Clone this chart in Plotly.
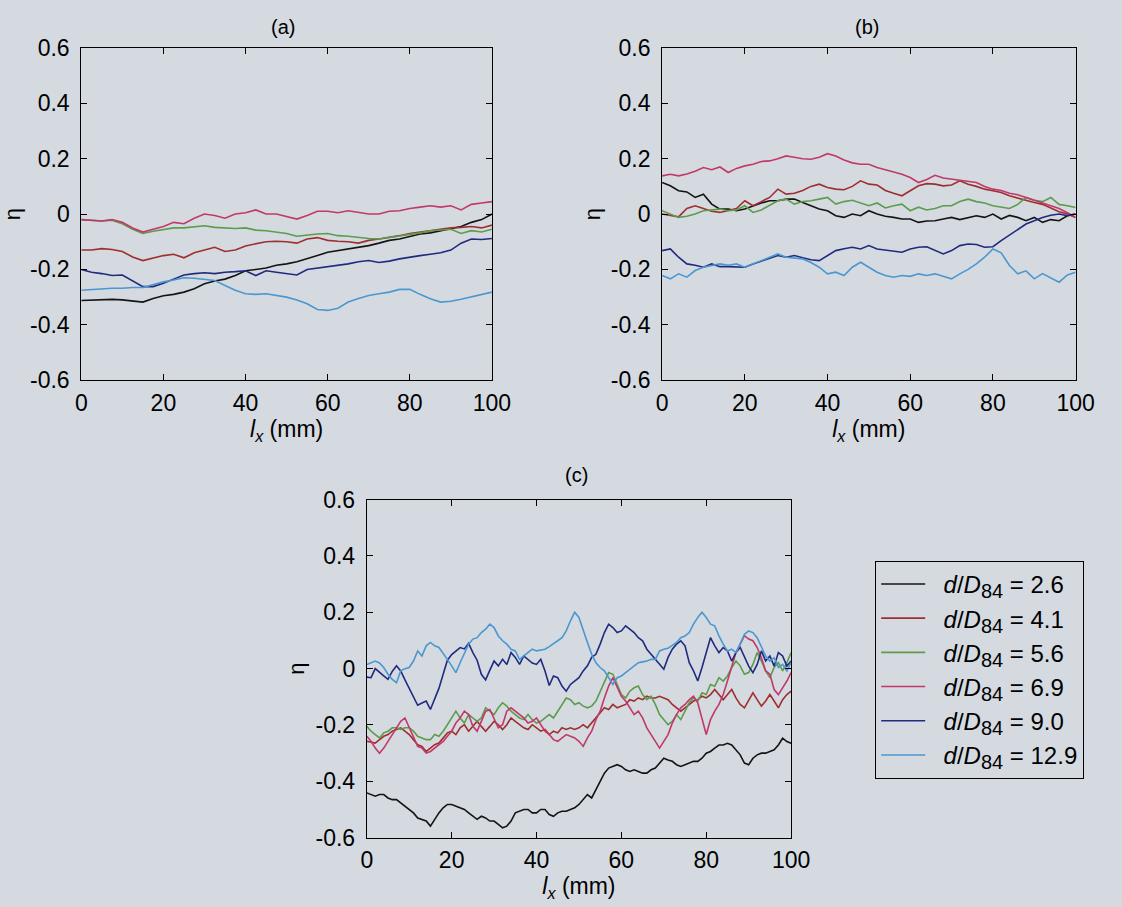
import plotly.graph_objects as go

# ---------------------------------------------------------------
# Sampling positions along the bed (mm)
# ---------------------------------------------------------------
lx_a = [k * 2.5 for k in range(41)]
lx_b = [k * 2 for k in range(51)]
lx_c = list(range(101))

ratios = ["2.6", "4.1", "5.6", "6.9", "9.0", "12.9"]
colors = ["#141414", "#9e2f2f", "#5c9c4c", "#c2386a", "#202a7e", "#4b97d0"]

# ---------------------------------------------------------------
# Panel (a)
# ---------------------------------------------------------------
a_26 = [-0.312, -0.31, -0.31, -0.308, -0.31, -0.315, -0.318, -0.305, -0.295, -0.29,
        -0.282, -0.27, -0.252, -0.242, -0.235, -0.222, -0.205, -0.2, -0.195, -0.185,
        -0.18, -0.172, -0.162, -0.15, -0.138, -0.132, -0.128, -0.12, -0.114, -0.105,
        -0.095, -0.09, -0.08, -0.072, -0.068, -0.06, -0.054, -0.045, -0.03, -0.02, 0.0]
a_41 = [-0.13, -0.13, -0.125, -0.128, -0.135, -0.155, -0.168, -0.16, -0.15, -0.145,
        -0.158, -0.14, -0.13, -0.12, -0.135, -0.13, -0.115, -0.108, -0.1, -0.098,
        -0.1, -0.105, -0.09, -0.085, -0.095, -0.098, -0.1, -0.105, -0.095, -0.09,
        -0.085, -0.078, -0.07, -0.065, -0.06, -0.055, -0.05, -0.048, -0.045, -0.05, -0.04]
a_56 = [-0.02, -0.022, -0.025, -0.022, -0.035, -0.055, -0.07, -0.062, -0.055, -0.05,
        -0.05, -0.045, -0.042, -0.048, -0.05, -0.052, -0.05, -0.058, -0.06, -0.065,
        -0.07, -0.08, -0.075, -0.072, -0.07, -0.078, -0.08, -0.085, -0.088, -0.09,
        -0.085, -0.08, -0.075, -0.068, -0.06, -0.058, -0.055, -0.07, -0.06, -0.065, -0.055]
a_69 = [-0.02, -0.022, -0.025, -0.02, -0.03, -0.05, -0.065, -0.055, -0.045, -0.03,
        -0.035, -0.015, 0.0, -0.005, -0.015, 0.0, 0.005, 0.015, 0.0, 0.0,
        -0.01, -0.018, -0.005, 0.01, 0.01, 0.005, 0.012, 0.005, 0.0, 0.0,
        0.01, 0.012, 0.02, 0.025, 0.03, 0.025, 0.03, 0.015, 0.035, 0.04, 0.045]
a_90 = [-0.2, -0.21, -0.215, -0.222, -0.22, -0.24, -0.262, -0.262, -0.25, -0.235,
        -0.22, -0.215, -0.212, -0.215, -0.21, -0.208, -0.205, -0.222, -0.205, -0.21,
        -0.215, -0.22, -0.2, -0.195, -0.19, -0.185, -0.18, -0.172, -0.168, -0.175,
        -0.17, -0.162, -0.155, -0.15, -0.145, -0.14, -0.13, -0.105, -0.09, -0.092, -0.088]
a_129 = [-0.275, -0.272, -0.27, -0.268, -0.268, -0.265, -0.265, -0.255, -0.245, -0.238,
         -0.23, -0.232, -0.235, -0.24, -0.258, -0.275, -0.288, -0.29, -0.288, -0.295,
         -0.3, -0.31, -0.324, -0.345, -0.348, -0.34, -0.318, -0.305, -0.294, -0.288,
         -0.282, -0.272, -0.272, -0.29, -0.306, -0.318, -0.315, -0.308, -0.3, -0.29, -0.282]

# ---------------------------------------------------------------
# Panel (b)
# ---------------------------------------------------------------
b_26 = [0.114, 0.102, 0.084, 0.08, 0.06, 0.072, 0.036, 0.018, 0.018, 0.012,
        0.018, 0.03, 0.04, 0.048, 0.048, 0.054, 0.054, 0.042, 0.03, 0.018,
        0.012, -0.006, -0.012, 0.0, -0.006, 0.012, 0.0, -0.008, -0.012, -0.018,
        -0.018, -0.03, -0.025, -0.024, -0.018, -0.012, -0.02, -0.012, -0.006, -0.012,
        0.0, -0.018, -0.005, -0.012, -0.024, -0.012, -0.03, -0.02, -0.024, -0.006, 0.0]
b_41 = [0.0, -0.005, -0.01, 0.02, 0.03, 0.02, 0.01, 0.006, 0.012, 0.02,
        0.048, 0.03, 0.045, 0.06, 0.09, 0.072, 0.075, 0.085, 0.1, 0.108,
        0.096, 0.09, 0.088, 0.1, 0.12, 0.108, 0.105, 0.085, 0.075, 0.066,
        0.084, 0.102, 0.11, 0.108, 0.102, 0.105, 0.12, 0.108, 0.1, 0.09,
        0.084, 0.078, 0.066, 0.058, 0.048, 0.042, 0.035, 0.02, 0.008, 0.0, -0.012]
b_56 = [0.012, 0.0, -0.012, -0.008, 0.0, 0.012, 0.015, 0.018, 0.012, 0.015,
        0.03, 0.006, 0.015, 0.03, 0.048, 0.054, 0.036, 0.045, 0.048, 0.054,
        0.06, 0.036, 0.045, 0.05, 0.04, 0.03, 0.04, 0.022, 0.03, 0.036,
        0.012, 0.025, 0.015, 0.02, 0.03, 0.03, 0.045, 0.054, 0.045, 0.04,
        0.03, 0.025, 0.02, 0.035, 0.06, 0.05, 0.045, 0.06, 0.035, 0.03, 0.024]
b_69 = [0.138, 0.144, 0.138, 0.145, 0.155, 0.168, 0.16, 0.17, 0.15, 0.165,
        0.174, 0.18, 0.19, 0.192, 0.2, 0.21, 0.205, 0.2, 0.198, 0.205,
        0.218, 0.21, 0.195, 0.185, 0.18, 0.18, 0.168, 0.16, 0.152, 0.144,
        0.132, 0.114, 0.125, 0.14, 0.13, 0.126, 0.122, 0.118, 0.114, 0.1,
        0.09, 0.085, 0.075, 0.07, 0.06, 0.048, 0.04, 0.03, 0.02, 0.005, -0.012]
b_90 = [-0.132, -0.126, -0.156, -0.18, -0.185, -0.192, -0.18, -0.19, -0.19, -0.192,
        -0.192, -0.18, -0.17, -0.16, -0.15, -0.156, -0.15, -0.158, -0.165, -0.168,
        -0.15, -0.132, -0.125, -0.12, -0.126, -0.114, -0.126, -0.13, -0.135, -0.138,
        -0.126, -0.12, -0.118, -0.13, -0.144, -0.132, -0.114, -0.108, -0.11, -0.12,
        -0.118, -0.096, -0.075, -0.055, -0.036, -0.024, -0.012, -0.004, 0.0, -0.006, 0.0]
b_129 = [-0.222, -0.234, -0.216, -0.228, -0.204, -0.192, -0.186, -0.18, -0.185, -0.18,
         -0.192, -0.18, -0.17, -0.158, -0.144, -0.156, -0.158, -0.162, -0.175, -0.192,
         -0.216, -0.21, -0.222, -0.192, -0.174, -0.192, -0.21, -0.222, -0.228, -0.222,
         -0.225, -0.216, -0.222, -0.216, -0.225, -0.234, -0.216, -0.2, -0.18, -0.156,
         -0.126, -0.14, -0.186, -0.216, -0.205, -0.234, -0.215, -0.232, -0.246, -0.22, -0.21]

# ---------------------------------------------------------------
# Panel (c)
# ---------------------------------------------------------------
c_26 = [-0.441, -0.447, -0.453, -0.447, -0.447, -0.459, -0.465, -0.465, -0.476, -0.488,
        -0.5, -0.512, -0.53, -0.535, -0.541, -0.559, -0.535, -0.512, -0.494, -0.482,
        -0.482, -0.488, -0.494, -0.5, -0.512, -0.524, -0.535, -0.524, -0.53, -0.541,
        -0.541, -0.553, -0.565, -0.559, -0.541, -0.512, -0.506, -0.5, -0.5, -0.512,
        -0.512, -0.5, -0.5, -0.518, -0.524, -0.512, -0.506, -0.506, -0.5, -0.494,
        -0.482, -0.465, -0.447, -0.459, -0.43, -0.4, -0.371, -0.353, -0.347, -0.341,
        -0.347, -0.359, -0.365, -0.359, -0.365, -0.371, -0.371, -0.359, -0.353, -0.335,
        -0.318, -0.324, -0.329, -0.341, -0.347, -0.341, -0.335, -0.329, -0.329, -0.318,
        -0.3, -0.294, -0.282, -0.271, -0.271, -0.265, -0.271, -0.288, -0.306, -0.335,
        -0.341, -0.318, -0.306, -0.3, -0.3, -0.294, -0.288, -0.271, -0.247, -0.259, -0.265]
c_41 = [-0.258, -0.26, -0.264, -0.252, -0.24, -0.234, -0.222, -0.216, -0.21, -0.222,
        -0.234, -0.252, -0.27, -0.276, -0.294, -0.282, -0.27, -0.264, -0.246, -0.228,
        -0.222, -0.234, -0.21, -0.199, -0.222, -0.205, -0.187, -0.205, -0.222, -0.205,
        -0.187, -0.199, -0.216, -0.199, -0.175, -0.187, -0.199, -0.21, -0.216, -0.199,
        -0.21, -0.222, -0.216, -0.234, -0.222, -0.228, -0.21, -0.216, -0.21, -0.216,
        -0.21, -0.199, -0.21, -0.193, -0.175, -0.157, -0.139, -0.145, -0.127, -0.139,
        -0.133, -0.127, -0.11, -0.115, -0.104, -0.11, -0.098, -0.104, -0.104, -0.098,
        -0.104, -0.11, -0.127, -0.139, -0.151, -0.139, -0.127, -0.115, -0.11, -0.098,
        -0.104, -0.092, -0.074, -0.092, -0.11, -0.092, -0.074, -0.104, -0.127, -0.139,
        -0.11, -0.086, -0.11, -0.133, -0.115, -0.092, -0.115, -0.139, -0.11, -0.092, -0.08]
c_56 = [-0.205, -0.222, -0.234, -0.246, -0.228, -0.222, -0.21, -0.21, -0.216, -0.21,
        -0.21, -0.222, -0.24, -0.246, -0.252, -0.252, -0.234, -0.24, -0.222, -0.199,
        -0.175, -0.151, -0.175, -0.193, -0.163, -0.175, -0.187, -0.175, -0.139, -0.151,
        -0.163, -0.139, -0.121, -0.133, -0.151, -0.163, -0.175, -0.181, -0.163, -0.181,
        -0.193, -0.187, -0.175, -0.163, -0.175, -0.151, -0.127, -0.104, -0.11, -0.127,
        -0.121, -0.133, -0.139, -0.133, -0.115, -0.08, -0.044, -0.014, -0.02, -0.056,
        -0.092, -0.104, -0.08, -0.068, -0.062, -0.092, -0.11, -0.098, -0.127, -0.163,
        -0.181, -0.199, -0.187, -0.163, -0.181, -0.151, -0.121, -0.104, -0.115, -0.086,
        -0.092, -0.056, -0.062, -0.032, -0.044, -0.026, 0.004, 0.027, 0.01, -0.02,
        -0.014, 0.015, 0.057, 0.027, -0.008, -0.032, 0.004, 0.021, -0.008, 0.021, 0.057]
c_69 = [-0.24, -0.258, -0.282, -0.3, -0.282, -0.258, -0.234, -0.21, -0.187, -0.175,
        -0.21, -0.246, -0.276, -0.282, -0.3, -0.294, -0.282, -0.27, -0.258, -0.24,
        -0.222, -0.193, -0.175, -0.151, -0.163, -0.205, -0.222, -0.187, -0.151, -0.145,
        -0.175, -0.21, -0.199, -0.151, -0.139, -0.151, -0.163, -0.175, -0.193, -0.187,
        -0.175, -0.199, -0.222, -0.234, -0.252, -0.258, -0.246, -0.234, -0.24, -0.246,
        -0.258, -0.276, -0.246, -0.222, -0.181, -0.151, -0.104, -0.062, -0.032, -0.068,
        -0.098, -0.115, -0.139, -0.163, -0.151, -0.175, -0.21, -0.234, -0.258, -0.282,
        -0.258, -0.234, -0.193, -0.163, -0.139, -0.127, -0.11, -0.098, -0.121, -0.175,
        -0.234, -0.181, -0.151, -0.127, -0.092, -0.044, 0.004, 0.057, 0.087, 0.117,
        0.105, 0.099, 0.075, 0.039, -0.008, -0.02, -0.074, -0.092, -0.068, -0.044, -0.014]
c_90 = [-0.03, -0.032, 0.0, -0.014, -0.026, -0.038, -0.01, 0.01, -0.008, -0.04,
        -0.07, -0.105, -0.13, -0.122, -0.115, -0.145, -0.11, -0.07, -0.02, 0.03,
        0.05, 0.063, 0.075, 0.07, 0.09, 0.057, 0.03, -0.02, -0.04, -0.005,
        0.027, 0.01, 0.033, 0.015, 0.057, 0.04, 0.015, 0.045, 0.033, 0.02,
        0.015, 0.033, -0.008, -0.06, -0.026, -0.032, -0.062, -0.08, -0.056, -0.044,
        -0.032, -0.008, 0.01, 0.04, 0.051, 0.087, 0.128, 0.158, 0.146, 0.128,
        0.134, 0.152, 0.14, 0.128, 0.11, 0.099, 0.069, 0.051, 0.033, 0.015,
        -0.002, 0.04, 0.069, 0.087, 0.099, 0.081, 0.021, -0.008, -0.044, 0.004,
        0.057, 0.11, 0.081, 0.057, 0.075, 0.063, 0.027, 0.057, 0.075, 0.039,
        0.009, -0.014, 0.015, 0.063, 0.027, 0.045, 0.009, 0.057, 0.045, 0.009, 0.027]
c_129 = [0.015, 0.022, 0.027, 0.02, 0.004, -0.02, -0.038, -0.05, -0.008, 0.0,
         0.004, 0.027, 0.063, 0.045, 0.081, 0.093, 0.081, 0.075, 0.055, 0.033,
         0.01, -0.014, 0.021, 0.057, 0.087, 0.105, 0.11, 0.128, 0.14, 0.158,
         0.146, 0.116, 0.099, 0.087, 0.069, 0.063, 0.033, 0.045, 0.057, 0.069,
         0.063, 0.066, 0.069, 0.078, 0.087, 0.099, 0.11, 0.134, 0.17, 0.2,
         0.182, 0.134, 0.093, 0.051, 0.021, 0.004, -0.008, -0.032, -0.056, -0.032,
         -0.026, -0.014, -0.002, 0.01, 0.021, 0.024, 0.027, 0.033, 0.033, 0.063,
         0.069, 0.072, 0.081, 0.093, 0.11, 0.116, 0.128, 0.158, 0.182, 0.2,
         0.182, 0.158, 0.152, 0.116, 0.087, 0.063, 0.069, 0.057, 0.087, 0.122,
         0.134, 0.128, 0.11, 0.075, 0.045, 0.027, 0.039, 0.004, 0.015, -0.008, 0.021]

panels = [
    ("x", "y", lx_a, [a_26, a_41, a_56, a_69, a_90, a_129]),
    ("x2", "y2", lx_b, [b_26, b_41, b_56, b_69, b_90, b_129]),
    ("x3", "y3", lx_c, [c_26, c_41, c_56, c_69, c_90, c_129]),
]

FONT = "Liberation Sans, Arial, sans-serif"
BG = "rgb(212,218,224)"

fig = go.Figure()
for xa, ya, xs, series in panels:
    for i, ys in enumerate(series):
        fig.add_trace(go.Scatter(
            x=xs, y=ys, xaxis=xa, yaxis=ya, mode="lines",
            line=dict(color=colors[i], width=1.6),
            name=("\u00a0\u00a0<i>d</i>/<i>D</i>"
                  '<sub><span style="font-size:20px">84</span></sub> = ' + ratios[i]),
            legendgroup="g" + str(i),
            showlegend=(xa == "x3"),
        ))

xtick_vals = [0, 20, 40, 60, 80, 100]
ytick_vals = [-0.6, -0.4, -0.2, 0, 0.2, 0.4, 0.6]
ytick_text = ["-0.6", "-0.4", "-0.2", "0", "0.2", "0.4", "0.6"]


def x_axis(domain, anchor):
    return dict(
        domain=domain, anchor=anchor, range=[0, 100],
        tickmode="array", tickvals=xtick_vals,
        ticks="inside", ticklen=6, tickwidth=1, tickcolor="black",
        showline=True, linecolor="black", linewidth=1, mirror="ticks",
        showgrid=False, zeroline=False, ticklabelstandoff=2,
        tickfont=dict(family=FONT, size=23, color="black"),
        title=dict(text="<i>l</i><sub><i>x</i></sub> (mm)",
                   font=dict(family=FONT, size=23, color="black"), standoff=2),
    )


def y_axis(domain, anchor):
    return dict(
        domain=domain, anchor=anchor, range=[-0.6, 0.6],
        tickmode="array", tickvals=ytick_vals, ticktext=ytick_text,
        ticks="inside", ticklen=6, tickwidth=1, tickcolor="black",
        showline=True, linecolor="black", linewidth=1, mirror="ticks",
        showgrid=False, zeroline=False, ticklabelstandoff=6,
        tickfont=dict(family=FONT, size=23, color="black"),
        title=dict(text="η", font=dict(family=FONT, size=22, color="black"), standoff=4),
    )


# Figure size and panel placement (pixels)
W, H = 1122, 907
dom_a = [77 / W, 497 / W]
dom_b = [671 / W, 1094 / W]
dom_c = [369 / W, 803 / W]
dom_top = [1 - 378 / H, 1 - 36 / H]
dom_bot = [1 - 849 / H, 1 - 501 / H]

fig.update_layout(
    width=W, height=H,
    margin=dict(l=0, r=0, t=0, b=0),
    paper_bgcolor=BG, plot_bgcolor=BG,
    font=dict(family=FONT, color="black"),
    xaxis=x_axis(dom_a, "y"), yaxis=y_axis(dom_top, "x"),
    xaxis2=x_axis(dom_b, "y2"), yaxis2=y_axis(dom_top, "x2"),
    xaxis3=x_axis(dom_c, "y3"), yaxis3=y_axis(dom_bot, "x3"),
    legend=dict(
        x=889 / W, y=1 - 564 / H, xanchor="left", yanchor="top",
        bgcolor=BG, bordercolor="black", borderwidth=1,
        font=dict(family=FONT, size=24, color="black"),
        tracegroupgap=0, itemwidth=44,
    ),
    showlegend=True,
)

for label, xc, yc in [("(a)", 283, 14), ("(b)", 881, 14), ("(c)", 584, 476)]:
    fig.add_annotation(
        text=label, x=xc / W, y=1 - yc / H, xref="paper", yref="paper",
        showarrow=False, xanchor="center", yanchor="middle",
        font=dict(family=FONT, size=20, color="black"),
    )

fig.write_html("out.html")
